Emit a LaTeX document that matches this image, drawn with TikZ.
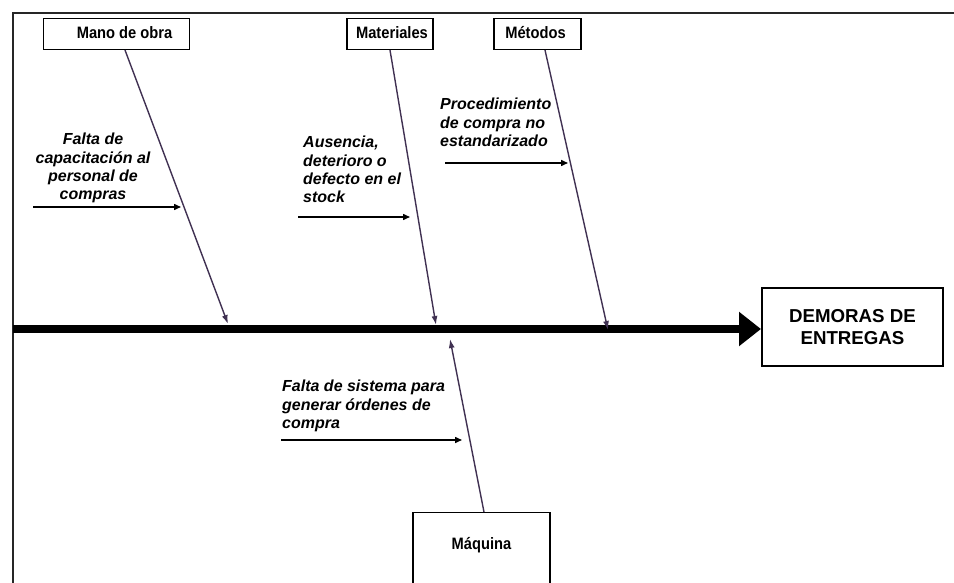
\documentclass[tikz,border=0pt]{standalone}
\usepackage{fontspec}
\setmainfont{Liberation Sans}
\newfontfamily\narrowfont[FakeStretch=0.89]{Liberation Sans}
\usetikzlibrary{arrows.meta}
\definecolor{bonecol}{HTML}{403152}
\tikzset{
  catfont/.style={font=\narrowfont\bfseries\fontsize{16.5}{18}\selectfont},
  catbox/.style={draw=black, line width=1.1pt, fill=white, minimum height=31pt,
    inner sep=0pt},
  catlabel/.style={catfont, inner sep=0pt},
  causetext/.style={inner sep=0pt, font=\bfseries\itshape\fontsize{16}{18.4}\selectfont},
  bone/.style={draw=bonecol, line width=1.4pt, -{Latex[length=9pt,width=6pt]}},
  subarrow/.style={draw=black, line width=1.5pt, -{Triangle[length=7pt,width=6pt]}},
  spine/.style={draw=black, line width=8pt, -{Triangle[length=22pt,width=33pt]}},
  effectbox/.style={draw=black, line width=2pt, minimum width=181pt, minimum height=78pt,
    inner sep=0pt, align=center, font=\bfseries\fontsize{18.7}{21.7}\selectfont}
}
\begin{document}
\begin{tikzpicture}[x=1pt,y=-1pt]
\useasboundingbox (0,0) rectangle (954,583);
\clip (0,0) rectangle (954,583);

% outer frame (left and top edges)
\draw[line width=2pt, black!85] (13,585) -- (13,13) -- (956,13);

% effect and spine
\node[effectbox] (effect) at (852.5,327) {DEMORAS DE\\ENTREGAS};
\coordinate (tail) at (13,329);
\draw[spine] (tail) -- (tail -| effect.west);

% category boxes and their labels
\node[catbox, minimum width=146pt] (mano) at (116.5,34) {};
\node[catlabel] (manolabel) at (124.5,33) {Mano de obra};
\node[catbox, minimum width=86pt] (mat) at (390,34) {};
\node[catlabel] (matlabel) at (392,33) {Materiales};
\node[catbox, minimum width=87pt] (met) at (537.5,34) {};
\node[catlabel] (metlabel) at (535.5,33) {Métodos};
\node[catbox, minimum width=137pt, minimum height=80pt, anchor=north] (maq) at (481.5,512) {};
\node[catlabel] (maqlabel) at (481.5,545) {Máquina};

% bones meeting the spine
\coordinate (jmano) at (228,324);
\coordinate (jmat) at (436,325);
\coordinate (jmet) at (608,330);
\coordinate (jmaq) at (450,339);
\draw[bone] ([xshift=8.5pt]mano.south) -- (jmano);
\draw[bone] (mat.south) -- (jmat);
\draw[bone] ([xshift=7.5pt]met.south) -- (jmet);
\draw[bone] ([xshift=2.5pt]maq.north) -- (jmaq);

% causes
\node[causetext, align=center, anchor=north] (c1) at (93,133)
  {Falta de\\capacitación al\\personal de\\compras};
\coordinate (a1s) at (33,207);
\coordinate (a1e) at (181,207);
\draw[subarrow] (a1s) -- (a1e);

\node[causetext, align=left, anchor=north west] (c2) at (303,136)
  {Ausencia,\\deterioro o\\defecto en el\\stock};
\coordinate (a2s) at (298,217);
\coordinate (a2e) at (410,217);
\draw[subarrow] (a2s) -- (a2e);

\node[causetext, align=left, anchor=north west] (c3) at (440,98)
  {Procedimiento\\de compra no\\estandarizado};
\coordinate (a3s) at (445,163);
\coordinate (a3e) at (568,163);
\draw[subarrow] (a3s) -- (a3e);

\node[causetext, align=left, anchor=north west] (c4) at (282,380)
  {Falta de sistema para\\generar órdenes de\\compra};
\coordinate (a4s) at (281,440);
\coordinate (a4e) at (462,440);
\draw[subarrow] (a4s) -- (a4e);
\end{tikzpicture}
\end{document}
